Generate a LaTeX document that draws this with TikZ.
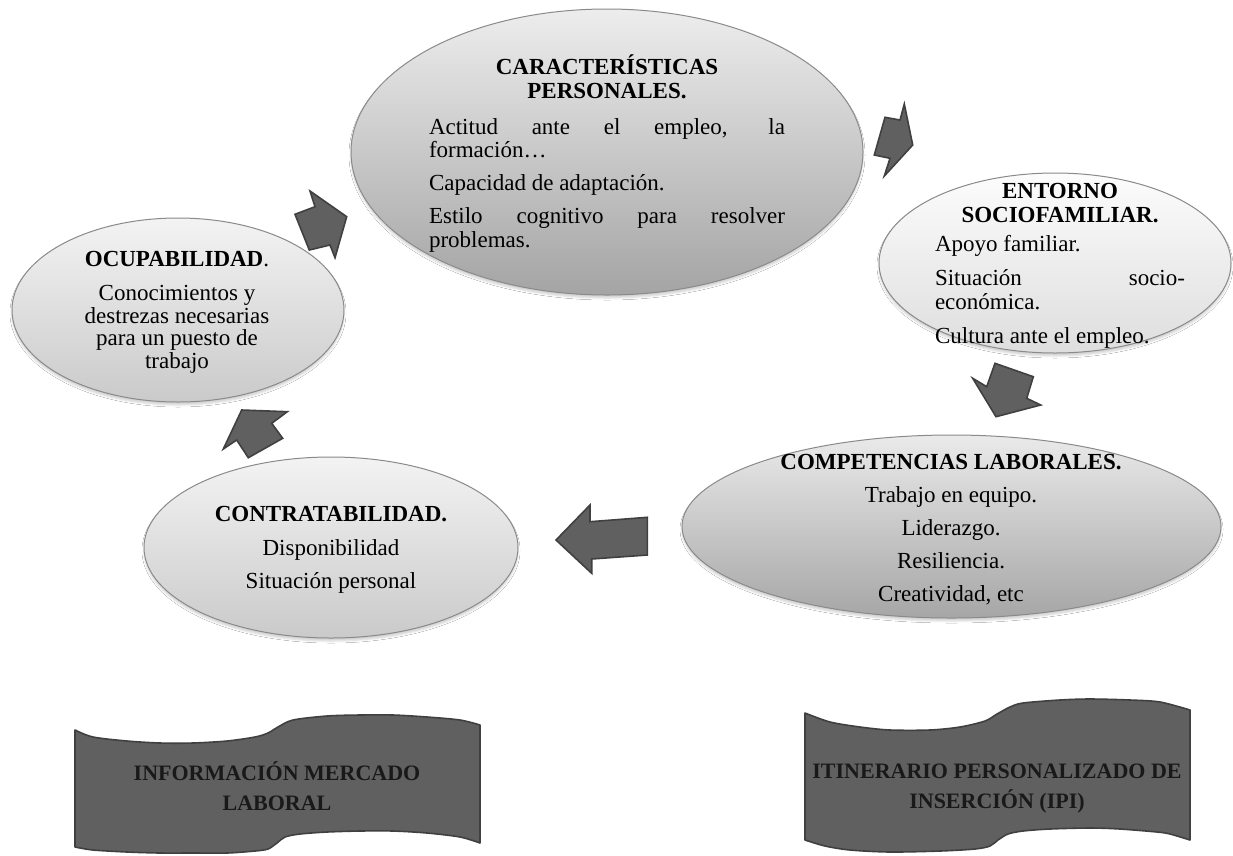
\documentclass[tikz,border=0pt]{standalone}
\usepackage{fontspec}
\setmainfont{Liberation Serif}
\usetikzlibrary{shapes.geometric,shadows.blur}
\definecolor{ellgray}{HTML}{8A8A8A}
\definecolor{arrfill}{HTML}{606060}
\definecolor{arredge}{HTML}{404040}
\definecolor{banfill}{HTML}{606060}
\definecolor{carTop}{HTML}{EDEDED}
\definecolor{carBot}{HTML}{A4A4A4}
\definecolor{comTop}{HTML}{EAEAEA}
\definecolor{comBot}{HTML}{A6A6A6}
\definecolor{litTop}{HTML}{F3F3F3}
\definecolor{litBot}{HTML}{CACACA}
\definecolor{entTop}{HTML}{FCFCFC}
\definecolor{entBot}{HTML}{DEDEDE}
\newcommand\myTopStrut{\rule{0pt}{21pt}}
\begin{document}
\begin{tikzpicture}[x=1pt,y=-1pt,
  ell/.style={ellipse, draw=ellgray, line width=1pt, inner sep=0pt, outer sep=0pt,
    blur shadow={shadow xshift=0pt, shadow yshift=-3pt, shadow blur radius=2pt, shadow opacity=18}},
  txt/.style={inner sep=0pt, outer sep=0pt, align=center, anchor=north, text=black,
    font=\fontsize{23}{23.5}\selectfont},
  bantxt/.style={txt, font=\fontsize{22}{30}\selectfont\bfseries, text=black!90},
  blk/.style={fill=arrfill, draw=arredge, line width=1.6pt, line join=miter},
  ban/.style={fill=banfill, draw=arredge, line width=1.6pt, line join=round}
]
\useasboundingbox[fill=white] (0,0) rectangle (1233,855);

% ellipses
\node[ell, minimum width=512pt, minimum height=286pt, top color=carTop, bottom color=carBot] (car) at (607,152) {};
\node[ell, minimum width=352pt, minimum height=180pt, top color=entTop, bottom color=entBot] (ent) at (1055,263) {};
\node[ell, minimum width=332pt, minimum height=184pt, top color=litTop, bottom color=litBot] (ocu) at (178,310) {};
\node[ell, minimum width=374pt, minimum height=181pt, top color=litTop, bottom color=litBot] (con) at (331,547.5) {};
\node[ell, minimum width=539pt, minimum height=183pt, top color=comTop, bottom color=comBot] (com) at (951.5,526.5) {};

% texts
\node[txt] (tcar) at (607,53.6) {\myTopStrut\textbf{CARACTERÍSTICAS}\\
  \textbf{PERSONALES.}\\[12.5pt]
  \makebox[356pt][s]{Actitud ante el empleo, la}\\
  \makebox[356pt][l]{formación…}\\[9.5pt]
  \makebox[356pt][l]{Capacidad de adaptación.}\\[9.5pt]
  \makebox[356pt][s]{Estilo cognitivo para resolver}\\
  \makebox[356pt][l]{problemas.}};

\node[txt] (tent) at (1060,177.6) {\myTopStrut\textbf{ENTORNO}\\
  \textbf{SOCIOFAMILIAR.}\\[6pt]
  \makebox[250pt][l]{Apoyo familiar.}\\[10.5pt]
  \makebox[250pt][s]{Situación socio-}\\
  \makebox[250pt][l]{económica.}\\[10.5pt]
  \makebox[250pt][l]{Cultura ante el empleo.}};

\node[txt, font=\fontsize{23}{22.5}\selectfont] (tocu) at (177,245.6) {\myTopStrut\textbf{OCUPABILIDAD}.\\[11.5pt]
  Conocimientos y\\ destrezas necesarias\\ para un puesto de\\ trabajo};

\node[txt] (tcon) at (331,500.6) {\myTopStrut\textbf{CONTRATABILIDAD.}\\[10pt]
  Disponibilidad\\[10pt] Situación personal};

\node[txt] (tcom) at (951,448.6) {\myTopStrut\textbf{COMPETENCIAS LABORALES.}\\[9.5pt]
  Trabajo en equipo.\\[9.5pt] Liderazgo.\\[9.5pt] Resiliencia.\\[9.5pt] Creatividad, etc};

% block arrows
\draw[blk] (346.7,216.7) -- (310,191) -- (315,206.7) -- (295,214.3) -- (309.3,250) -- (330,245) -- (335,257.7) -- cycle;
\draw[blk] (912.7,145) -- (904.3,104) -- (900,120) -- (885,117.3) -- (874.3,155) -- (890,158.3) -- (884.3,176) -- cycle;
\draw[blk] (996,416.7) -- (972.7,378.3) -- (986.7,386.7) -- (995,363.3) -- (1033.3,376.7) -- (1026.7,398.3) -- (1040.7,405) -- cycle;
\draw[blk] (556,540) -- (590,505) -- (590,521.7) -- (647.3,517.3) -- (647.3,555) -- (591.7,559) -- (591.7,573.3) -- cycle;
\draw[blk] (241.7,410) -- (287.3,411.7) -- (271.7,423.3) -- (282.7,438.3) -- (248.3,457.7) -- (236.7,440) -- (223.3,449) -- cycle;

% banners
\draw[ban] plot[smooth, tension=0.5] coordinates {(75,730) (93,737) (127,741) (160,743) (193,743) (227,741) (255,737) (268,733) (278,727) (293,720) (327,716) (360,715) (393,715) (427,717) (460,720) (480,725)}
  -- plot[smooth, tension=0.5] coordinates {(480,843) (460,837) (427,833) (393,831) (360,831) (327,832) (300,834) (285,837) (277,843) (268,849) (255,851) (227,853) (193,853) (160,853) (127,852) (93,850) (75,847)} -- cycle;
\draw[ban] plot[smooth, tension=0.5] coordinates {(805,713) (830,722) (860,727) (890,730) (930,730) (960,727) (985,721) (997,714) (1010,707) (1023,703) (1060,700) (1090,699) (1130,700) (1160,702) (1190,710)}
  -- plot[smooth, tension=0.5] coordinates {(1190,840) (1170,834) (1157,832) (1120,829) (1090,828) (1050,829) (1023,831) (1008,834) (998,840) (990,846) (975,849) (940,851) (890,852) (850,850) (825,846) (805,840)} -- cycle;

\node[bantxt] (tinfo) at (277,759) {\myTopStrut INFORMACIÓN MERCADO\\ LABORAL};
\node[bantxt] (tipi) at (997,757) {\myTopStrut ITINERARIO PERSONALIZADO DE\\ INSERCIÓN (IPI)};
\end{tikzpicture}
\end{document}
